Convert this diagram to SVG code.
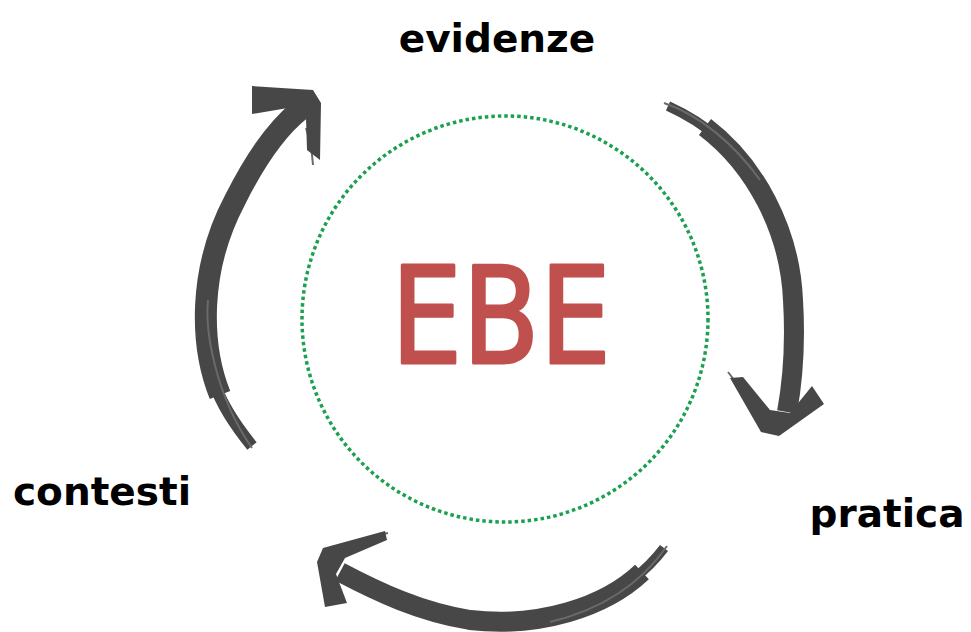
<svg xmlns="http://www.w3.org/2000/svg" width="971" height="632" viewBox="0 0 971 632">
<style>
.lbl{font-family:"DejaVu Sans","Liberation Sans",sans-serif;font-weight:bold;font-size:39px;fill:#000}
.body{fill:none;stroke:#474747;stroke-linecap:butt}
.thin{fill:none;stroke:#6a6a6a;stroke-width:2}
.head{fill:#474747}
</style>
<rect width="971" height="632" fill="#fff"/>
<g id="center">
<circle cx="505" cy="319" r="203" fill="none" stroke="#1aa04f" stroke-width="3.5" stroke-dasharray="3.5 3"/>
<text x="501" y="363" text-anchor="middle" textLength="220" lengthAdjust="spacingAndGlyphs" font-family="DejaVu Sans, Liberation Sans, sans-serif" font-size="134" fill="#c0504d" stroke="#c0504d" stroke-width="3" stroke-linejoin="round" stroke-linecap="round">EBE</text>
</g>
<g id="evidenze"><text class="lbl" x="497" y="52" text-anchor="middle">evidenze</text></g>
<g id="contesti"><text class="lbl" x="102" y="505" text-anchor="middle">contesti</text></g>
<g id="pratica"><text class="lbl" x="887" y="527" text-anchor="middle">pratica</text></g>
<g id="connectors">
<g id="arrow-left">
<path class="body" stroke-width="12" d="M 252 446 C 235 425, 222 405, 215 385"/>
<path class="body" stroke-width="22" d="M 220 395 C 200 345, 198 270, 235 200 C 255 160, 275 130, 300 110"/>
<path class="thin" d="M 252 448 C 215 395, 205 330, 208 300"/>
<path class="thin" d="M 306 128 C 310 140, 312 150, 313 165"/>
<polygon class="head" points="252,86 313,90 321,103 320,160 307,150 306,118 288,108 252,114"/>
</g>
<g id="arrow-right">
<path class="body" stroke-width="10" d="M 668 106 C 690 116, 705 126, 718 138"/>
<path class="body" stroke-width="20" d="M 705 127 C 755 165, 790 230, 793 300 C 796 350, 792 385, 787 412"/>
<path class="thin" d="M 664 103 C 700 115, 735 145, 760 180"/>
<path class="thin" d="M 728 372 C 738 385, 748 398, 758 410"/>
<polygon class="head" points="730,378 743,377 770,410 790,413 812,386 824,404 779,436 761,432"/>
</g>
<g id="arrow-bottom">
<path class="body" stroke-width="10" d="M 664 548 C 655 560, 645 570, 632 580"/>
<path class="body" stroke-width="20" d="M 642 572 C 605 607, 540 628, 470 620 C 420 612, 378 592, 340 572"/>
<path class="thin" d="M 667 546 C 640 585, 600 610, 550 622"/>
<path class="thin" d="M 350 545 C 362 538, 375 535, 388 533"/>
<polygon class="head" points="323,548 385,531 387,540 345,558 336,574 347,603 325,607 317,562"/>
</g>
</g>
</svg>
